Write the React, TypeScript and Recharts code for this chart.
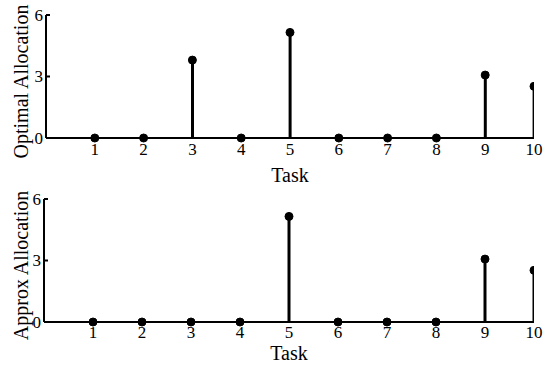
import { ComposedChart, Bar, Line, XAxis, YAxis } from 'recharts';

const tasks = [1, 2, 3, 4, 5, 6, 7, 8, 9, 10];
const optimalAllocation = [0, 0, 3.8, 0, 5.15, 0, 0, 0, 3.07, 2.52];
const approxAllocation = [0, 0, 0, 0, 5.15, 0, 0, 0, 3.07, 2.52];
const yTicks = [0, 3, 6];

const FONT = '"Liberation Serif", "DejaVu Serif", serif';

const YTick = (props: any) => {
    const { x, y, payload } = props;
    const axisX = x + 3;
    return (
        <g>
            <text x={x} y={y} textAnchor="end" dominantBaseline="central" fontFamily={FONT} fontSize={17} fill="#000">
                {payload.value}
            </text>
            <line x1={axisX} y1={y} x2={axisX + 4} y2={y} stroke="#000" strokeWidth={2} />
        </g>
    );
};

function StemPanel({ values, ylabel, height, top, bottom, axisWidth, xAxisHeight, tickGap }: {
    values: number[]; ylabel: string; height: number; top: number; bottom: number;
    axisWidth: number; xAxisHeight: number; tickGap: number;
}) {
    const data = tasks.map((task, i) => ({ task, value: values[i] }));
    return (
        <ComposedChart width={554} height={height} data={data} margin={{ top, right: 20, left: 0, bottom }}>
            <XAxis
                dataKey="task"
                type="number"
                domain={[0, 10]}
                ticks={tasks}
                allowDataOverflow
                height={xAxisHeight}
                tickLine={false}
                tickSize={0}
                tickMargin={tickGap}
                axisLine={{ stroke: '#000', strokeWidth: 2 }}
                tick={{ fill: '#000', fontFamily: FONT, fontSize: 17 }}
                label={{ value: 'Task', position: 'insideBottom', offset: 0, fill: '#000', fontFamily: FONT, fontSize: 20 }}
            />
            <YAxis
                type="number"
                domain={[0, 6]}
                ticks={yTicks}
                width={axisWidth}
                tickLine={false}
                tickSize={0}
                tickMargin={3}
                axisLine={{ stroke: '#000', strokeWidth: 2 }}
                tick={<YTick />}
                label={{
                    content: (p: any) => {
                        const vb = p.viewBox || {};
                        const cy = vb.y + vb.height / 2 + 5;
                        return (
                            <text x={21} y={cy} transform={`rotate(-90 21 ${cy})`} textAnchor="middle"
                                dominantBaseline="central" fontFamily={FONT} fontSize={20} fill="#000">
                                {ylabel}
                            </text>
                        );
                    },
                }}
            />
            <Bar dataKey="value" barSize={3} fill="#000" isAnimationActive={false} />
            <Line
                dataKey="value"
                stroke="none"
                dot={{ r: 4, fill: '#000', stroke: '#000', strokeWidth: 1 }}
                activeDot={false}
                isAnimationActive={false}
            />
        </ComposedChart>
    );
}

export default function App() {
    return (
        <div style={{ position: 'absolute', left: 0, top: 0, width: 554, height: 367, background: '#fff' }}>
            <div style={{ position: 'absolute', left: 0, top: 0 }}>
                <StemPanel values={optimalAllocation} ylabel="Optimal Allocation" height={187} top={15} bottom={5}
                    axisWidth={46} xAxisHeight={44} tickGap={5} />
            </div>
            <div style={{ position: 'absolute', left: 0, top: 182 }}>
                <StemPanel values={approxAllocation} ylabel="Approx Allocation" height={185} top={17} bottom={7}
                    axisWidth={44} xAxisHeight={38} tickGap={4} />
            </div>
        </div>
    );
}
